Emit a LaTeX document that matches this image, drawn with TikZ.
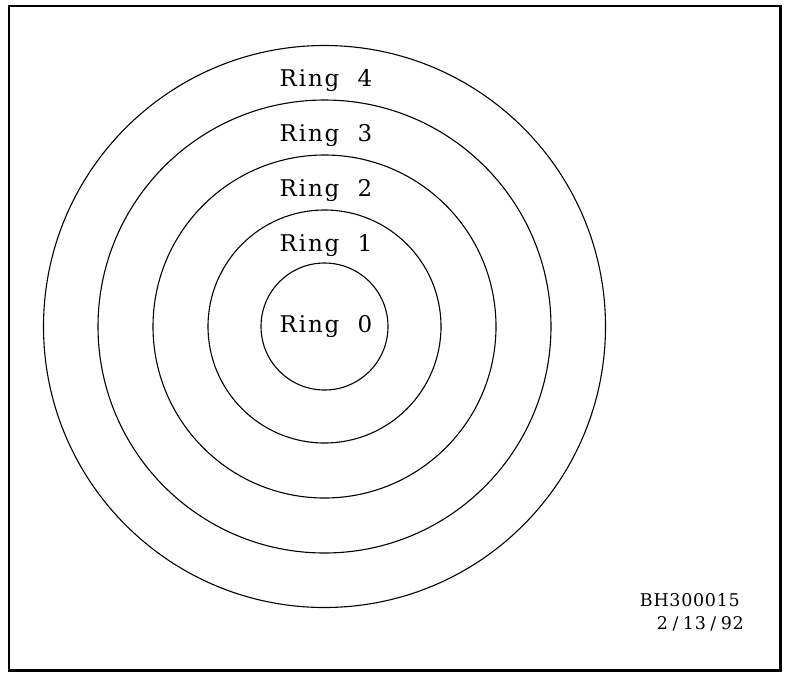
\documentclass[tikz,border=0pt]{standalone}
\usepackage{fontspec}
\newfontfamily\plotfont{DejaVu Serif}[LetterSpace=8]
\newcommand\dslash{\makebox[0.85em]{/}}
\usetikzlibrary{positioning}

\begin{document}
\begin{tikzpicture}[
  x=1pt, y=-1pt,
  ring/.style={draw, line width=1.1pt},
  ringlabel/.style={inner sep=0pt, anchor=base,
                    font=\plotfont\fontsize{23}{26}\selectfont},
  stamp/.style={inner sep=0pt, anchor=base east,
                font=\plotfont\addfontfeatures{LetterSpace=4}\fontsize{17.5}{20}\selectfont},
]
\useasboundingbox (0,0) rectangle (786,672);
\draw[line width=2.4pt] (8.7,6) rectangle (780.5,670.5);

% concentric rings
\coordinate (ctr) at (324.5,326.5);
\draw[ring] (ctr) circle[radius=281];
\draw[ring] (ctr) circle[radius=226.5];
\draw[ring] (ctr) circle[radius=171.5];
\draw[ring] (ctr) circle[radius=116.5];
\draw[ring] (ctr) circle[radius=63.5];

\node[ringlabel] at (326, 86.7)  (lab4) {Ring\hspace{0.4em} 4};
\node[ringlabel] at (326, 141.7) (lab3) {Ring\hspace{0.4em} 3};
\node[ringlabel] at (326, 196.7) (lab2) {Ring\hspace{0.4em} 2};
\node[ringlabel] at (326, 251.7) (lab1) {Ring\hspace{0.4em} 1};
\node[ringlabel] at (326, 332.7) (lab0) {Ring\hspace{0.4em} 0};

\node[stamp] at (740, 606.7) (code) {BH300015};
\node[stamp] at (744, 629.3) (date) {2\dslash13\dslash92};
\end{tikzpicture}
\end{document}
